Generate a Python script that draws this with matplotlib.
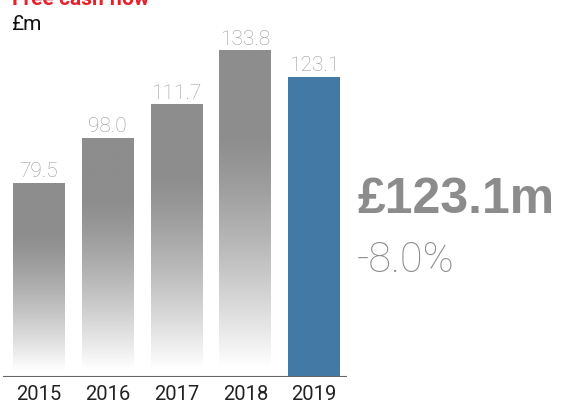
import numpy as np
import matplotlib.pyplot as plt
from matplotlib.colors import to_rgb

years = ['2015', '2016', '2017', '2018', '2019']
values = [79.5, 98.0, 111.7, 133.8, 123.1]
headline = '£123.1m'
change = '-8.0%'

gray = np.array(to_rgb('#8d8d8d'))
white = np.array([1.0, 1.0, 1.0])
blue = '#437aa5'

plt.rcParams['font.family'] = ['Roboto', 'DejaVu Sans']

W, H = 565, 403
fig = plt.figure(figsize=(W / 100, H / 100), dpi=100)
# axes placed in pixel terms: baseline at y=377, axis line from x=3 to x=347
ax = fig.add_axes([3 / W, 26 / H, 344 / W, 377 / H])
step = 68.75
ax.axis('off')
ax.axhline(0, color='#666666', lw=1.5, zorder=5)

bw = 52 / step
x = np.arange(len(years))

# vertical gradient: solid gray at top, fading to white near the base
t = np.linspace(0, 1, 256)
fade = np.clip((t - 0.25) / 0.72, 0, 1) ** 1.3
grad = gray[None, :] * (1 - fade[:, None]) + white[None, :] * fade[:, None]
grad = grad[:, None, :]

for i, v in enumerate(values):
    if i == len(values) - 1:
        ax.bar(x[i], v, width=bw, color=blue, zorder=2)
    else:
        ax.imshow(grad, extent=[x[i] - bw / 2, x[i] + bw / 2, 0, v],
                  aspect='auto', origin='upper', zorder=2, interpolation='bilinear')
    ax.text(x[i], v + 2.4, f'{v:.1f}', ha='center', va='baseline',
            fontsize=15, color='#9a9a9a', fontweight='light')
    ax.text(x[i], -9.6, years[i], ha='center', va='baseline',
            fontsize=14.5, color='#222222')

ax.set_xlim((3 - 39) / step, (347 - 39) / step)
ax.set_ylim(0, 377 / 2.437)

fig.text(12 / W, 1 - 5 / H, 'Free cash flow', color='#e8202a', fontsize=15,
         fontweight='bold', ha='left', va='baseline')
fig.text(11 / W, 1 - 30 / H, '£m', color='#111111', fontsize=15,
         ha='left', va='baseline')
fig.text(358 / W, 1 - 213 / H, headline, color='#8c8c8c', fontsize=36,
         fontweight='bold', family=['Liberation Sans', 'DejaVu Sans'],
         ha='left', va='baseline')
fig.text(357 / W, 1 - 272 / H, change, color='#8c8c8c', fontsize=30,
         fontweight='light', ha='left', va='baseline')

fig.savefig('out.png', dpi=100)
